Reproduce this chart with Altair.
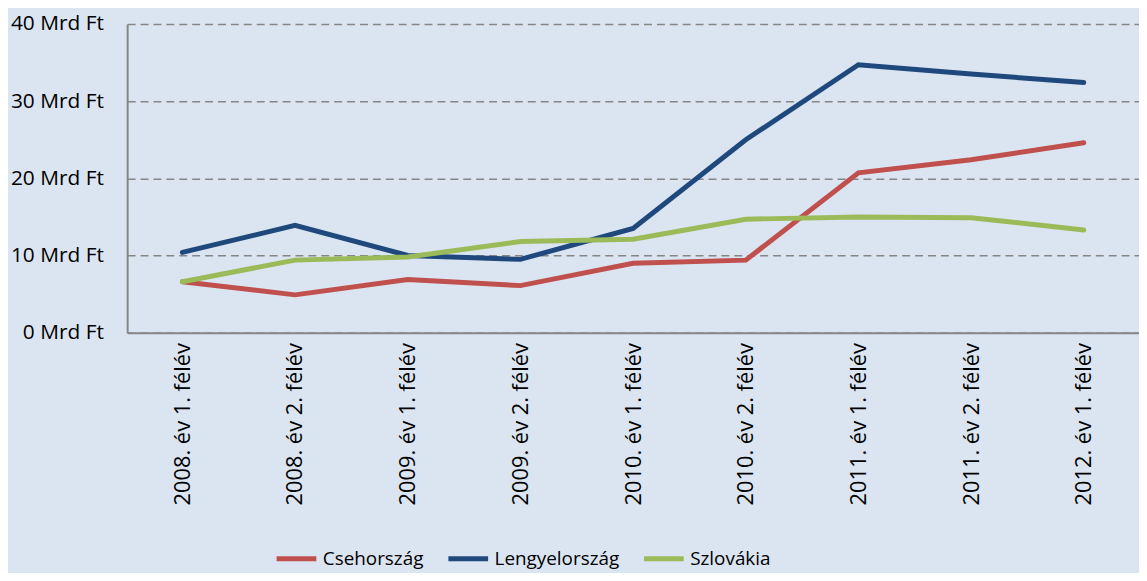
import altair as alt
import pandas as pd

categories = ["2008. év 1. félév", "2008. év 2. félév", "2009. év 1. félév", "2009. év 2. félév",
              "2010. év 1. félév", "2010. év 2. félév", "2011. év 1. félév", "2011. év 2. félév",
              "2012. év 1. félév"]
series_names = ["Csehország", "Lengyelország", "Szlovákia"]
cseh = [6.6, 4.9, 6.9, 6.1, 9.0, 9.4, 20.7, 22.4, 24.6]
lengyel = [10.4, 13.9, 10.0, 9.5, 13.5, 25.0, 34.7, 33.5, 32.4]
szlovak = [6.6, 9.4, 9.8, 11.8, 12.1, 14.7, 15.0, 14.9, 13.3]
colors = ["#C0504D", "#1F497D", "#9BBB59"]

rows = []
for name, vals in zip(series_names, [cseh, lengyel, szlovak]):
    for c, v in zip(categories, vals):
        rows.append({"Időszak": c, "Ország": name, "Érték": v})
df = pd.DataFrame(rows)

FONT = "Open Sans"

chart = alt.Chart(df).mark_line(strokeWidth=5, strokeCap="round").encode(
    x=alt.X("Időszak:N", sort=categories, title=None,
            scale=alt.Scale(padding=0.49),
            axis=alt.Axis(labelAngle=-90, labelFontSize=22, labelFont=FONT, labelColor="#000000",
                          ticks=False, labelPadding=10, domainColor="#868686", domainWidth=2,
                          grid=False)),
    y=alt.Y("Érték:Q", title=None,
            scale=alt.Scale(domain=[0, 40], nice=False),
            axis=alt.Axis(values=[0, 10, 20, 30, 40], labelExpr="datum.label + ' Mrd Ft'",
                          labelFontSize=21, labelFont=FONT, labelColor="#000000",
                          ticks=False, labelPadding=24, domainColor="#868686", domainWidth=2,
                          grid=True, gridColor="#868686", gridDash=[8, 5], gridWidth=1.5)),
    color=alt.Color("Ország:N", sort=series_names,
                    scale=alt.Scale(domain=series_names, range=colors),
                    legend=alt.Legend(title=None, orient="none", direction="horizontal",
                                      legendX=148, legendY=516,
                                      symbolType="stroke", symbolSize=1600, symbolStrokeWidth=5,
                                      labelFontSize=19, labelFont=FONT, labelColor="#000000",
                                      labelOffset=4, columnPadding=14)),
).properties(
    width=1019, height=311,
    autosize=alt.AutoSizeParams(type="none"),
    padding={"left": 120, "top": 14, "right": 0, "bottom": 240},
    background="#DBE5F1",
).configure_view(stroke=None)

chart.save("out.html", embed_options={"renderer": "svg", "actions": False})
